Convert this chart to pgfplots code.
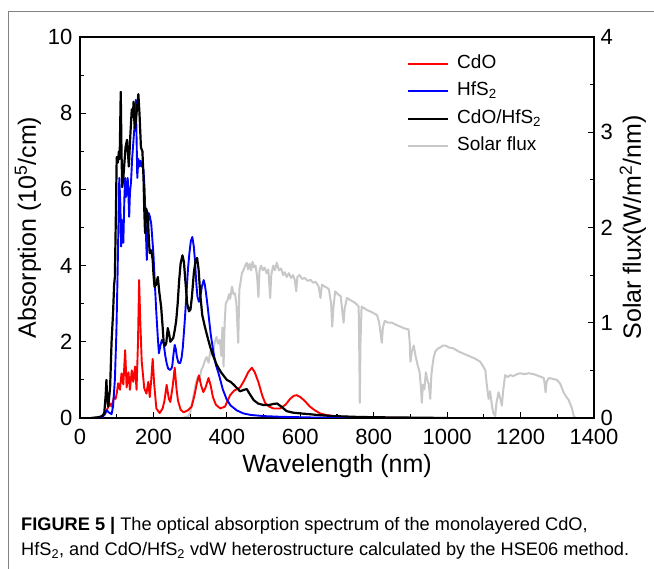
\documentclass[border=0pt]{standalone}
\usepackage{fontspec}
\setmainfont{Liberation Sans}
\usepackage{pgfplots}
\pgfplotsset{compat=1.18}

\definecolor{solargray}{RGB}{200,200,200}
\definecolor{framegray}{RGB}{130,130,130}

\pgfplotsset{
  commonax/.style={
    scale only axis, width=514pt, height=381pt,
    at={(80pt,151pt)}, anchor=south west,
    xmin=0, xmax=1400,
    axis line style={line width=1.2pt},
    tick style={line width=1.1pt, black},
    major tick length=6pt, minor tick length=4pt,
    tick align=inside,
    tick label style={font=\fontsize{22}{24}\selectfont},
    /pgf/number format/assume math mode=true,
    /pgf/number format/1000 sep={},
    scaled ticks=false,
    label style={font=\fontsize{25}{27}\selectfont},
  }
}

\begin{document}
\begin{tikzpicture}
\path[use as bounding box] (0,0) rectangle (654pt,569pt);
\draw[framegray, line width=1pt] (8pt,0pt) -- (8pt,557pt) -- (654pt,557pt);

% solar flux, right axis
\begin{axis}[commonax,
    ymin=0, ymax=4,
    axis y line*=right, axis x line=none,
    ytick={0,1,2,3,4}, minor y tick num=1,
    yticklabel style={xshift=3pt},
    ylabel={Solar flux(W/m\textsuperscript{2}/nm)},
]
\addplot[solargray, line width=2pt, line join=round] coordinates {
(280,0) (295,0.02) (300,0.05) (305,0.15) (310,0.25) (315,0.35) (320,0.43) (325,0.38)
(330,0.5) (335,0.54) (340,0.6) (345,0.64) (350,0.58) (355,0.7) (360,0.66) (363,0.68)
(367,0.8) (372,0.85) (376,0.78) (381,0.82) (385,0.65) (388,0.95) (391,0.54) (394,1.0)
(397,1.2) (402,1.24) (406,1.3) (409,1.25) (414,1.38) (418,1.3) (422,1.31) (426,1.2)
(431,0.79) (434,1.35) (437,1.42) (441,1.52) (445,1.55) (450,1.6) (454,1.63) (458,1.56)
(462,1.62) (466,1.55) (470,1.64) (474,1.58) (478,1.6) (482,1.5) (486,1.27) (489,1.55)
(493,1.6) (498,1.55) (503,1.58) (508,1.52) (513,1.56) (518,1.26) (521,1.5) (526,1.6)
(531,1.55) (536,1.63) (542,1.55) (548,1.57) (553,1.5) (558,1.53) (563,1.48) (569,1.52)
(575,1.47) (580,1.5) (585,1.45) (589,1.33) (592,1.48) (598,1.5) (605,1.46) (612,1.47)
(620,1.44) (628,1.45) (635,1.42) (642,1.43) (650,1.38) (655,1.26) (659,1.4) (666,1.38)
(672,1.37) (678,1.35) (684,1.2) (687,0.96) (690,1.15) (695,1.33) (702,1.3) (710,1.28)
(715,1.1) (718,1.0) (721,1.15) (727,1.26) (735,1.24) (745,1.22) (752,1.2) (759,1.17)
(761,0.6) (762,0.16) (764,0.8) (767,1.17) (775,1.15) (783,1.13) (790,1.12) (800,1.1)
(809,1.08) (815,1.0) (820,0.85) (822,0.79) (825,0.95) (830,1.02) (840,1.0) (850,1.0)
(860,0.98) (872,0.96) (884,0.94) (895,0.93) (898,0.8) (900,0.59) (904,0.7) (909,0.76)
(914,0.65) (920,0.55) (925,0.48) (929,0.3) (931,0.16) (934,0.35) (938,0.3) (942,0.48)
(946,0.4) (950,0.35) (954,0.2) (957,0.45) (960,0.55) (963,0.63) (968,0.7) (975,0.73)
(981,0.74) (988,0.76) (995,0.76) (1005,0.74) (1018,0.73) (1030,0.7) (1042,0.68) (1054,0.66)
(1066,0.64) (1078,0.62) (1090,0.59) (1097,0.55) (1104,0.5) (1108,0.35) (1113,0.2) (1117,0.28)
(1122,0.13) (1126,0.05) (1131,0.02) (1134,0.15) (1140,0.27) (1145,0.2) (1149,0.13) (1153,0.3)
(1158,0.45) (1165,0.43) (1172,0.45) (1180,0.44) (1190,0.46) (1199,0.47) (1210,0.46) (1222,0.47)
(1236,0.46) (1250,0.44) (1263,0.42) (1266,0.35) (1268,0.27) (1271,0.38) (1277,0.42) (1288,0.41)
(1299,0.4) (1308,0.36) (1317,0.27) (1325,0.22) (1331,0.19) (1336,0.14) (1340,0.1) (1345,0.02)
(1350,0)
};
\end{axis}

% absorption, left axis
\begin{axis}[commonax,
    ymin=0, ymax=10,
    xtick={0,200,...,1400}, minor x tick num=1,
    ytick={0,2,...,10}, minor y tick num=1,
    xtick pos=bottom, ytick pos=left,
    xticklabel style={yshift=-8pt},
    yticklabel style={xshift=-4pt},
    xlabel={Wavelength (nm)},
    xlabel style={yshift=-2pt},
    ylabel={Absorption (10\textsuperscript{5}/cm)},
    legend cell align=left,
    legend image code/.code={\draw[#1] (0pt,0pt) -- (40pt,0pt);},
    legend style={at={(rel axis cs:0.63,0.966)}, anchor=north west,
        draw=none, fill=none, font=\fontsize{19}{20}\selectfont,
        row sep=4.5pt, nodes={inner sep=2pt, text height=14pt, text depth=5pt},
        /tikz/every odd column/.append style={column sep=6pt}},
]
\addplot[red, line width=1.9pt, line join=round, forget plot] coordinates {
(40,0) (60,0.02) (68,0.13) (75,0.25) (82,0.38) (86,0.3) (93,0.56) (97,0.5) (100,0.64)
(104,0.91) (109,0.74) (113,1.17) (118,0.88) (123,1.78) (127,0.8) (132,1.2) (136,0.74)
(141,1.25) (145,0.95) (150,1.35) (154,0.74) (158,2.0) (161,3.62) (164,2.6) (168,1.5)
(175,0.78) (181,0.64) (186,0.95) (190,0.55) (194,1.0) (198,1.55) (202,0.9) (208,0.25)
(217,0.13) (225,0.25) (230,0.45) (236,0.87) (242,0.5) (246,0.42) (252,0.8) (258,1.32)
(263,0.75) (267,0.45) (274,0.22) (282,0.15) (294,0.2) (304,0.3) (312,0.6) (318,0.9)
(324,1.12) (330,0.85) (336,0.68) (342,0.8) (350,1.05) (356,0.85) (362,0.55) (370,0.35)
(382,0.25) (395,0.3) (409,0.6) (420,0.72) (436,0.8) (448,1.0) (458,1.2) (468,1.32)
(476,1.2) (486,0.94) (496,0.6) (504,0.4) (515,0.3) (527,0.25) (545,0.25) (560,0.35)
(572,0.5) (582,0.58) (590,0.6) (600,0.55) (612,0.45) (626,0.3) (640,0.2) (654,0.12)
(670,0.08) (690,0.05) (720,0.03) (800,0.01) (900,0)
};
\addplot[blue, line width=1.9pt, line join=round, forget plot] coordinates {
(40,0) (60,0.02) (68,0.1) (73,0.2) (78,0.15) (86,0.1) (90,0.3) (95,1.0) (99,2.2) (102,3.6)
(105,5.2) (107,6.3) (110,5.6) (112,4.5) (114,5.2) (116,4.6) (118,4.6) (121,5.8) (123,6.3)
(125,5.8) (127,6.0) (130,6.3) (132,5.8) (134,5.28) (136,5.9) (139,6.2) (142,6.8) (145,7.2)
(148,7.6) (150,8.0) (152,8.35) (154,7.4) (156,6.3) (159,6.8) (162,6.6) (165,6.75) (168,6.6)
(170,6.7) (173,6.5) (176,6.0) (179,5.0) (182,4.15) (185,5.0) (187,5.38) (190,5.3) (194,5.1)
(197,4.7) (200,4.3) (204,3.5) (208,2.75) (212,2.1) (215,1.7) (219,1.9) (223,2.05) (226,2.0)
(228,1.95) (232,1.65) (236,1.44) (240,1.3) (245,1.26) (249,1.3) (251,1.35) (255,1.7)
(258,1.92) (261,1.8) (264,1.6) (268,1.45) (273,1.44) (277,1.6) (280,1.85) (285,2.5)
(289,3.1) (294,3.9) (298,4.33) (302,4.65) (306,4.75) (310,4.5) (313,4.15) (317,3.5)
(320,3.18) (324,3.05) (328,3.2) (332,3.45) (337,3.62) (340,3.5) (343,3.3) (348,2.9)
(356,2.2) (363,1.75) (370,1.4) (378,1.15) (389,0.75) (399,0.5) (410,0.33) (427,0.2)
(445,0.12) (465,0.08) (500,0.05) (550,0.03) (650,0.01) (800,0)
};
\addplot[black, line width=2.2pt, line join=round, forget plot] coordinates {
(30,0) (50,0.02) (60,0.05) (66,0.12) (70,0.6) (72,1.0) (74,0.5) (77,0.3) (82,0.8) (86,2.0)
(90,2.75) (93,3.5) (95,3.7) (98,5.5) (100,6.85) (103,6.7) (106,7.0) (108,6.8) (111,8.56)
(113,7.0) (115,6.06) (118,6.3) (121,6.7) (124,7.1) (128,7.3) (131,6.9) (133,6.6) (137,7.4)
(141,8.1) (144,7.9) (146,8.3) (148,7.8) (150,7.6) (153,7.9) (156,8.2) (159,8.5) (162,8.0)
(166,7.1) (170,7.0) (173,6.3) (175,5.5) (177,4.9) (178,4.85) (180,5.5) (183,5.4) (185,5.25)
(188,4.6) (190,4.33) (194,4.4) (198,4.15) (200,3.8) (203,3.44) (207,3.5) (212,3.7) (216,3.3)
(221,2.92) (225,2.4) (228,1.97) (232,1.9) (235,1.97) (239,2.36) (243,2.2) (246,2.0)
(250,2.05) (254,2.1) (258,2.3) (262,2.55) (266,3.0) (270,3.6) (274,4.05) (279,4.27)
(283,4.1) (287,3.6) (292,3.0) (297,2.8) (301,2.85) (305,3.2) (310,3.8) (315,4.15) (319,4.2)
(323,3.9) (328,3.2) (333,2.7) (340,2.4) (348,2.1) (355,1.85) (362,1.65) (372,1.4)
(384,1.2) (392,1.1) (400,1.0) (410,0.95) (418,0.88) (428,0.78) (436,0.7) (444,0.73)
(454,0.76) (463,0.62) (473,0.47) (485,0.38) (500,0.34) (515,0.34) (527,0.37) (537,0.38)
(548,0.3) (563,0.18) (580,0.14) (600,0.12) (625,0.1) (645,0.08) (690,0.05) (750,0.03)
(800,0.02) (900,0.01) (1000,0)
};
\addlegendimage{red, line width=1.9pt}
\addlegendentry{CdO}
\addlegendimage{blue, line width=1.9pt}
\addlegendentry{HfS\textsubscript{2}}
\addlegendimage{black, line width=2.2pt}
\addlegendentry{CdO/HfS\textsubscript{2}}
\addlegendimage{solargray, line width=2pt}
\addlegendentry{Solar flux}
\end{axis}

\node[anchor=base west, inner sep=0pt, font=\fontsize{18.2}{20}\selectfont] at (21pt,38pt)
  {\textbf{FIGURE 5 |} The optical absorption spectrum of the monolayered CdO,};
\node[anchor=base west, inner sep=0pt, font=\fontsize{18.2}{20}\selectfont] at (21pt,13pt)
  {HfS\textsubscript{2}, and CdO/HfS\textsubscript{2} vdW heterostructure calculated by the HSE06 method.};
\end{tikzpicture}
\end{document}
